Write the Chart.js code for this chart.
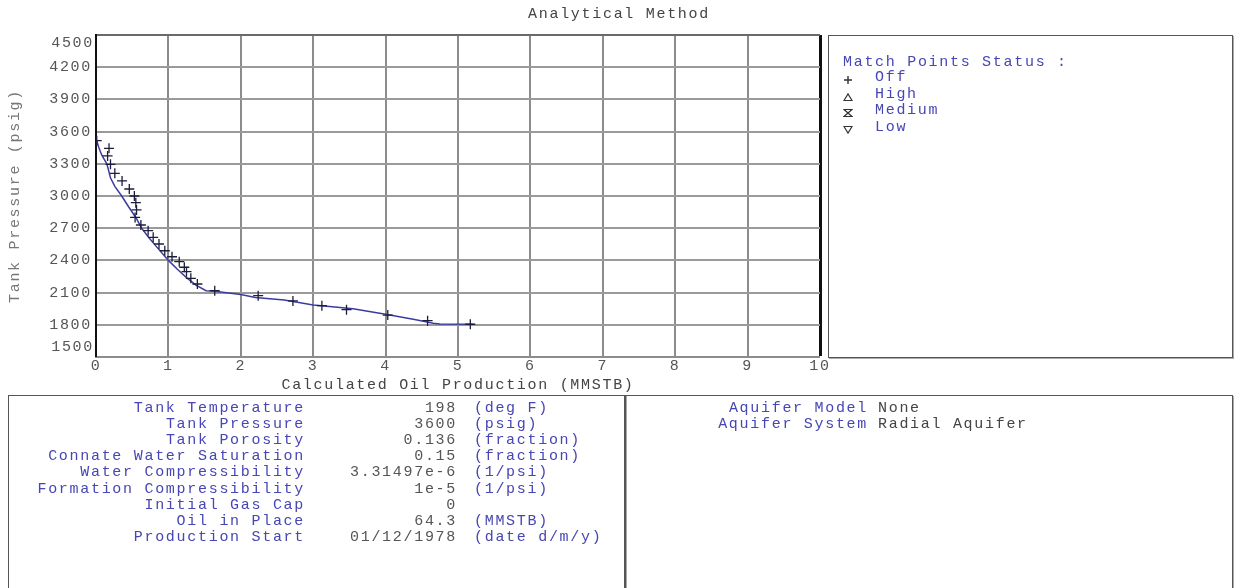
<!DOCTYPE html>
<html>
<head>
<meta charset="utf-8">
<title>Analytical Method</title>
<script src="https://cdn.jsdelivr.net/npm/chart.js@4"></script>
<style>
  html, body { margin: 0; padding: 0; background: #fff; }
  #wrap {
    position: relative; width: 1238px; height: 588px; overflow: hidden;
    font-family: "Liberation Mono", "Courier New", monospace;
    font-size: 15px; letter-spacing: 1.7px; color: #555;
  }
  #plot { position: absolute; left: 0; top: 0; }
  .txt { position: absolute; white-space: nowrap; line-height: 16px; height: 16px; }
  .blue { color: #4646b4; }
  .grey { color: #555; }
  .box { position: absolute; border: 1px solid #555; box-shadow: 1px 1px 0 #aaa; }
  .sym { position: absolute; width: 10px; height: 10px; }
</style>
</head>
<body>
<div id="wrap">
  <canvas id="plot" width="1238" height="588"></canvas>
  <div class="txt grey" style="left:0;width:1238px;text-align:center;top:7px;color:#444">Analytical Method</div>

  <!-- legend panel -->
  <div class="box" style="left:828px;top:35px;width:403px;height:321px"></div>
  <div id="legend"></div>

  <!-- parameter panels -->
  <div class="box" style="left:8px;top:395px;width:616px;height:200px"></div>
  <div class="box" style="left:624px;top:395px;width:607px;height:200px"></div>
  <div id="params"></div>
</div>

<script>
// Calculated model curve: cumulative oil (MMSTB) vs tank pressure (psig)
const modelOil = [0, 0.04, 0.08, 0.15, 0.20, 0.26, 0.355, 0.45, 0.55, 0.63, 0.72, 0.82, 1.00, 1.12, 1.25, 1.38, 1.52, 1.64, 2.00, 2.20, 2.60, 3.00, 3.30, 3.55, 4.00, 4.40, 4.66, 4.75, 5.21];
const modelPressure = [3535, 3450, 3380, 3300, 3170, 3090, 3000, 2900, 2800, 2700, 2620, 2540, 2400, 2320, 2240, 2170, 2118, 2112, 2082, 2055, 2030, 1985, 1965, 1950, 1898, 1850, 1814, 1808, 1805];

// Match points (status: Off)
const matchOil = [0.01, 0.18, 0.16, 0.20, 0.26, 0.36, 0.46, 0.53, 0.55, 0.56, 0.54, 0.62, 0.72, 0.79, 0.87, 0.95, 1.05, 1.15, 1.22, 1.25, 1.31, 1.40, 1.64, 2.24, 2.72, 3.12, 3.46, 4.03, 4.58, 5.17];
const matchPressure = [3515, 3444, 3373, 3295, 3211, 3140, 3065, 3000, 2938, 2870, 2800, 2730, 2677, 2615, 2553, 2490, 2434, 2388, 2336, 2295, 2233, 2180, 2118, 2071, 2022, 1978, 1941, 1891, 1838, 1805];

// Axis ticks
const xTicks = [0, 1, 2, 3, 4, 5, 6, 7, 8, 9, 10];
const yTicks = [1500, 1800, 2100, 2400, 2700, 3000, 3300, 3600, 3900, 4200, 4500];

// Legend entries
const statusNames = ['Off', 'High', 'Medium', 'Low'];
const statusSymbols = ['plus', 'triUp', 'hourglass', 'triDown'];

// Tank parameters
const paramLabels = ['Tank Temperature', 'Tank Pressure', 'Tank Porosity', 'Connate Water Saturation', 'Water Compressibility', 'Formation Compressibility', 'Initial Gas Cap', 'Oil in Place', 'Production Start'];
const paramValues = ['198', '3600', '0.136', '0.15', '3.31497e-6', '1e-5', '0', '64.3', '01/12/1978'];
const paramUnits = ['(deg F)', '(psig)', '(fraction)', '(fraction)', '(1/psi)', '(1/psi)', '', '(MMSTB)', '(date d/m/y)'];

// Aquifer settings
const aquiferLabels = ['Aquifer Model', 'Aquifer System'];
const aquiferValues = ['None', 'Radial Aquifer'];

const FONT = '"Liberation Mono", "Courier New", monospace';
const TICK_COLOR = '#555';

// ---------- HTML panels ----------
function addText(parent, text, cls, style) {
  const d = document.createElement('div');
  d.className = 'txt ' + cls;
  d.textContent = text;
  Object.assign(d.style, style);
  parent.appendChild(d);
  return d;
}

const svgPaths = {
  plus: '<path d="M1 5 H9 M5 1 V9" stroke="#333" stroke-width="1.4" fill="none"/>',
  triUp: '<path d="M1 8.5 L5 2 L9 8.5 Z" stroke="#333" stroke-width="1.2" fill="none"/>',
  hourglass: '<path d="M1 1.5 H9 L1 8.5 H9 Z" stroke="#333" stroke-width="1.2" fill="none"/>',
  triDown: '<path d="M1 1.5 L5 8 L9 1.5 Z" stroke="#333" stroke-width="1.2" fill="none"/>'
};

const legend = document.getElementById('legend');
addText(legend, 'Match Points Status :', 'blue', { left: '843px', top: '55px' });
statusNames.forEach((name, i) => {
  const cy = 78 + i * 16.5;
  const s = document.createElement('div');
  s.className = 'sym';
  s.style.left = '843px';
  s.style.top = (cy - 5) + 'px';
  s.innerHTML = '<svg width="10" height="10" viewBox="0 0 10 10">' + svgPaths[statusSymbols[i]] + '</svg>';
  legend.appendChild(s);
  addText(legend, name, 'blue', { left: '875px', top: (cy - 8) + 'px' });
});

const params = document.getElementById('params');
paramLabels.forEach((lab, i) => {
  const top = (401 + i * 16.1) + 'px';
  addText(params, lab, 'blue', { right: (1238 - 305) + 'px', top: top });
  addText(params, paramValues[i], 'grey', { right: (1238 - 457) + 'px', top: top });
  if (paramUnits[i]) addText(params, paramUnits[i], 'blue', { left: '474px', top: top });
});
aquiferLabels.forEach((lab, i) => {
  const top = (401 + i * 16.1) + 'px';
  addText(params, lab, 'blue', { right: (1238 - 868) + 'px', top: top });
  addText(params, aquiferValues[i], 'grey', { left: '878px', top: top, color: '#444' });
});

// ---------- Chart ----------
const spacingPlugin = {
  id: 'letterSpacing',
  beforeLayout(chart) { chart.ctx.letterSpacing = '1.7px'; },
  beforeDraw(chart) { chart.ctx.letterSpacing = '1.7px'; }
};

// end labels of the pressure axis sit just inside the frame
const endLabels = {
  id: 'endLabels',
  afterDraw(chart) {
    const y = chart.scales.y;
    const ctx = chart.ctx;
    ctx.save();
    ctx.letterSpacing = '1.7px';
    ctx.font = '15px ' + FONT;
    ctx.fillStyle = TICK_COLOR;
    ctx.textAlign = 'right';
    ctx.textBaseline = 'middle';
    const x = chart.chartArea.left - 2;
    ctx.fillText(String(yTicks[yTicks.length - 1]), x, y.getPixelForValue(yTicks[yTicks.length - 1]) + 8);
    ctx.fillText(String(yTicks[0]), x, y.getPixelForValue(yTicks[0]) - 10);
    ctx.restore();
  }
};

const lastX = xTicks[xTicks.length - 1];
const lastY = yTicks[yTicks.length - 1];

new Chart(document.getElementById('plot'), {
  type: 'scatter',
  data: {
    datasets: [
      {
        label: 'Calculated',
        data: modelOil.map((x, i) => ({ x: x, y: modelPressure[i] })),
        showLine: true,
        borderColor: '#3c3ca0',
        borderWidth: 1.5,
        pointRadius: 0,
        tension: 0,
        order: 2
      },
      {
        label: 'Off',
        data: matchOil.map((x, i) => ({ x: x, y: matchPressure[i] })),
        showLine: false,
        pointStyle: 'cross',
        pointRadius: 5,
        borderColor: '#1c1c3c',
        backgroundColor: '#1c1c3c',
        pointBorderWidth: 1.3,
        order: 1
      }
    ]
  },
  options: {
    responsive: false,
    animation: false,
    devicePixelRatio: 1,
    layout: { padding: { left: 0, top: 35, right: 418, bottom: 191 } },
    plugins: {
      legend: { display: false },
      tooltip: { enabled: false },
      title: { display: false }
    },
    scales: {
      x: {
        type: 'linear',
        min: xTicks[0],
        max: lastX,
        afterBuildTicks(scale) { scale.ticks = xTicks.map(v => ({ value: v })); },
        afterFit(scale) { scale.height = 40; },
        ticks: {
          padding: 0,
          color: TICK_COLOR,
          font: { family: FONT, size: 15 },
          maxRotation: 0,
          callback: v => String(v)
        },
        grid: {
          drawTicks: false,
          color: c => (c.tick && c.tick.value === lastX) ? '#111' : '#8c8c8c',
          lineWidth: c => {
            if (!c.tick) return 2;
            if (c.tick.value === xTicks[0]) return 0;
            if (c.tick.value === lastX) return 3;
            return 2;
          }
        },
        border: { color: '#8c8c8c', width: 2 },
        title: {
          display: true,
          text: 'Calculated Oil Production (MMSTB)',
          color: '#444',
          font: { family: FONT, size: 15 },
          padding: { top: 0, bottom: 3 }
        }
      },
      y: {
        type: 'linear',
        min: yTicks[0],
        max: lastY,
        afterBuildTicks(scale) { scale.ticks = yTicks.map(v => ({ value: v })); },
        afterFit(scale) { scale.width = 96; },
        ticks: {
          padding: 4,
          color: TICK_COLOR,
          font: { family: FONT, size: 15 },
          callback: v => (v === yTicks[0] || v === lastY) ? '' : String(v)
        },
        grid: {
          drawTicks: false,
          color: c => (c.tick && c.tick.value === lastY) ? '#6a6a6a' : '#9a9a9a',
          lineWidth: c => {
            if (!c.tick) return 2;
            if (c.tick.value === yTicks[0]) return 0;
            return 2;
          }
        },
        border: { color: '#111', width: 2 },
        title: {
          display: true,
          text: 'Tank Pressure (psig)',
          color: '#777',
          font: { family: FONT, size: 15 },
          padding: { top: 6, bottom: 0 }
        }
      }
    }
  },
  plugins: [spacingPlugin, endLabels]
});
</script>
</body>
</html>
